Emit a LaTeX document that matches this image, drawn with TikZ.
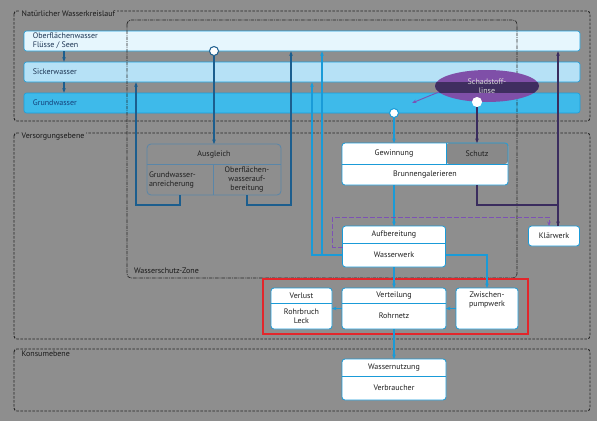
\documentclass[tikz,border=0pt]{standalone}
\usepackage{fontspec}
\setmainfont{PT Sans}
\usetikzlibrary{positioning,arrows.meta,shapes.geometric}

\definecolor{bggray}{HTML}{8E8E8E}
\definecolor{bandline}{HTML}{1B9EDB}
\definecolor{bandone}{HTML}{E6F6FD}
\definecolor{bandtwo}{HTML}{B6E1F6}
\definecolor{bandthree}{HTML}{3EBAEA}
\definecolor{cyanline}{HTML}{1A9BD8}
\definecolor{darkblueline}{HTML}{1C5E8E}
\definecolor{navytext}{HTML}{1D3553}
\definecolor{deepbluetext}{HTML}{15407A}
\definecolor{plumline}{HTML}{3A2C5E}
\definecolor{violetline}{HTML}{7D52B5}
\definecolor{lenslight}{HTML}{7F4FA8}
\definecolor{lensdark}{HTML}{3F2E60}
\definecolor{schutzgray}{HTML}{898989}
\definecolor{framered}{HTML}{E3262B}
\definecolor{ausgleichline}{HTML}{5A86A8}
\definecolor{boxtext}{HTML}{202020}

\begin{document}
\begin{tikzpicture}[x=1pt, y=-1pt,
        font=\fontsize{8}{9}\selectfont,
        >={Stealth[length=4.5pt,width=3.6pt]},
        waterband/.style={draw=bandline, line width=0.6pt, rounded corners=2.5pt, minimum width=556pt, minimum height=20pt, inner sep=0pt},
        bandtext/.style={anchor=west, align=left, inner sep=0pt},
        whitebox/.style={draw=cyanline, fill=white, line width=0.8pt, rounded corners=3pt, inner sep=0pt, outer sep=0pt},
        ausglbox/.style={draw=ausgleichline, line width=0.8pt, rounded corners=4pt, inner sep=0pt, outer sep=0pt},
        rowtext/.style={text=boxtext, inner sep=0pt, outer sep=0pt, align=center},
        divline/.style={draw=cyanline, line width=0.8pt},
        ausgldiv/.style={draw=ausgleichline, line width=0.8pt},
        levelframe/.style={draw=black!85, line width=0.9pt, dash pattern=on 2.5pt off 1.5pt, rounded corners=3pt},
        zoneframe/.style={draw=black!85, line width=0.7pt, dash pattern=on 3.5pt off 1pt on 0.8pt off 1pt, rounded corners=4pt},
        framelabel/.style={anchor=west, text=black!90, fill=bggray, inner sep=1.5pt},
        waterdot/.style={circle, fill=white, minimum size=9pt, inner sep=0pt, line width=1pt},
        cyanarrow/.style={->, draw=cyanline, line width=1.2pt},
        bluearrow/.style={->, draw=darkblueline, line width=1.2pt},
        plumarrow/.style={->, draw=plumline, line width=1.2pt},
        violetarrow/.style={->, draw=violetline, line width=0.9pt},
        violetdash/.style={->, draw=violetline, line width=0.8pt, dash pattern=on 5pt off 2pt},
]
        \fill[bggray] (0,0) rectangle (597,421);
        \useasboundingbox (0,0) rectangle (597,421);

        \draw[levelframe] (14,11) rectangle (590,121);
        \draw[levelframe] (14,133) rectangle (590,339);
        \draw[levelframe] (14,349) rectangle (590,411);
        \node[framelabel] (natlabel) at (20,14) {Natürlicher Wasserkreislauf};
        \node[framelabel] (versorglabel) at (20,137) {Versorgungsebene};
        \node[framelabel] (konsumlabel) at (20,354) {Konsumebene};

        \node[waterband, fill=bandone] (ober) at (302,41) {};
        \node[waterband, fill=bandtwo] (sicker) at (302,72) {};
        \node[waterband, fill=bandthree] (grund) at (302,103) {};
        \node[bandtext, text=navytext, right=9pt of ober.west] (obertext) {Oberflächenwasser\\Flüsse / Seen};
        \node[bandtext, text=navytext, right=9pt of sicker.west] (sickertext) {Sickerwasser};
        \node[bandtext, text=deepbluetext, right=9pt of grund.west] (grundtext) {Grundwasser};

        \draw[zoneframe] (127,20) rectangle (517,278);
        \node[rowtext, anchor=west, text=black!90] (zonelabel) at (134,271) {Wasserschutz-Zone};

        \node[ellipse, fill=lenslight, minimum width=104pt, minimum height=32pt, inner sep=0pt] (linse) at (487,86) {};
        \begin{scope}
            \clip (linse.center) ellipse [x radius=52pt, y radius=16pt];
            \fill[lensdark] (430,82) rectangle (545,93);
        \end{scope}
        \node[rowtext, text=white!85!black] (linsetext) at (487,86) {Schadstoff-\\linse};

        \node[waterdot, draw=darkblueline] (oberdot) at (214,51) {};
        \node[waterdot, draw=cyanline] (grunddot) at (394,113) {};
        \node[waterdot, draw=white] (linsedot) at (477,102) {};

        \node[ausglbox, minimum width=134pt, minimum height=51pt] (ausgl) at (214,169.5) {};
        \node[rowtext, minimum width=134pt, minimum height=20pt, below=0pt of ausgl.north] (ausgleich) {Ausgleich};
        \node[rowtext, minimum width=66pt, minimum height=31pt, text width=62pt, align=left, above right=0pt of ausgl.south west] (anreicherung) {Grundwasser-\\anreicherung};
        \node[rowtext, minimum width=68pt, minimum height=31pt, above left=0pt of ausgl.south east] (owaufbereitung) {Oberflächen-\\wasserauf-\\bereitung};
        \draw[ausgldiv] (ausgleich.south west) -- (ausgleich.south east);
        \draw[ausgldiv] (anreicherung.north east) -- (anreicherung.south east);

        \node[whitebox, minimum width=166pt, minimum height=42pt, path picture={\fill[schutzgray] ([xshift=21pt]path picture bounding box.center) rectangle (path picture bounding box.north east);}] (gew) at (425,164) {};
        \node[rowtext, minimum width=104pt, minimum height=21pt, below right=0pt of gew.north west] (gewinnung) {Gewinnung};
        \node[rowtext, minimum width=62pt, minimum height=21pt, below left=0pt of gew.north east] (schutz) {Schutz};
        \node[rowtext, minimum width=166pt, minimum height=21pt, above=0pt of gew.south] (brunnen) {Brunnengalerieren};
        \draw[divline] (gewinnung.south west) -- (schutz.south east);
        \draw[divline] (gewinnung.north east) -- (gewinnung.south east);

        \node[whitebox, minimum width=103pt, minimum height=41pt] (werk) at (394,246.5) {};
        \node[rowtext, minimum width=103pt, minimum height=17pt, below=0pt of werk.north] (aufbereitung) {Aufbereitung};
        \node[rowtext, minimum width=103pt, minimum height=24pt, above=0pt of werk.south] (wasserwerk) {Wasserwerk};
        \draw[divline] (aufbereitung.south west) -- (aufbereitung.south east);

        \node[whitebox, minimum width=51pt, minimum height=20pt, text=boxtext] (klaerwerk) at (554,236) {Klärwerk};

        \draw[framered, line width=2.6pt] (263,279) rectangle (528,334);

        \node[whitebox, minimum width=61pt, minimum height=41pt] (leck) at (301.5,308.5) {};
        \node[rowtext, minimum width=61pt, minimum height=15pt, below=0pt of leck.north] (verlust) {Verlust};
        \node[rowtext, minimum width=61pt, minimum height=26pt, above=0pt of leck.south] (rohrbruch) {Rohrbruch\\Leck};
        \draw[divline] (verlust.south west) -- (verlust.south east);

        \node[whitebox, minimum width=104pt, minimum height=41pt] (netz) at (394,308.5) {};
        \node[rowtext, minimum width=104pt, minimum height=15pt, below=0pt of netz.north] (verteilung) {Verteilung};
        \node[rowtext, minimum width=104pt, minimum height=26pt, above=0pt of netz.south] (rohrnetz) {Rohrnetz};
        \draw[divline] (verteilung.south west) -- (verteilung.south east);

        \node[whitebox, minimum width=62pt, minimum height=41pt] (pumpwerk) at (487,308.5) {};
        \node[rowtext, anchor=north] (zwischen) at ([yshift=-4pt]pumpwerk.north) {Zwischen-\\pumpwerk};

        \node[whitebox, minimum width=104pt, minimum height=41pt] (nutzung) at (394,379.5) {};
        \node[rowtext, minimum width=104pt, minimum height=17pt, below=0pt of nutzung.north] (wassernutzung) {Wassernutzung};
        \node[rowtext, minimum width=104pt, minimum height=24pt, above=0pt of nutzung.south] (verbraucher) {Verbraucher};
        \draw[divline] (wassernutzung.south west) -- (wassernutzung.south east);

        \coordinate (colband) at (64,0);
        \coordinate (colsicker) at (136,0);
        \coordinate (colober) at (291,0);
        \coordinate (colwwsicker) at (312,0);
        \coordinate (colwwober) at (322,0);
        \coordinate (leak) at (412,103);
        \coordinate (linseedge) at ([xshift=4pt,yshift=-6pt]linse.west);
        \coordinate (klaerleft) at ([xshift=-5pt]klaerwerk.north);
        \coordinate (klaerright) at ([xshift=4pt]klaerwerk.north);

        \draw[bluearrow] (ober.south -| colband) -- (sicker.north -| colband);
        \draw[bluearrow] (sicker.south -| colband) -- (grund.north -| colband);
        \draw[bluearrow] (oberdot) -- (ausgleich.north);
        \draw[bluearrow] (anreicherung.south) -- ++(0,10) -| (sicker.south -| colsicker);
        \draw[bluearrow] (owaufbereitung.south) -- ++(0,10) -| (ober.south -| colober);
        \draw[cyanarrow] (grunddot) -- (gewinnung.north);
        \draw[cyanarrow] (gewinnung |- brunnen.south) -- (aufbereitung.north);
        \draw[cyanarrow] (wasserwerk.west) -| (sicker.south -| colwwsicker);
        \draw[cyanarrow] (wasserwerk.west) -| (ober.south -| colwwober);
        \draw[violetdash] ([yshift=-4pt]wasserwerk.north west) -- ++(-10,0) -- ++(0,-30) -| (klaerleft);
        \draw[plumarrow] (schutz |- brunnen.south) -- ++(0,20) -| (klaerright);
        \draw[plumarrow] (klaerright) -- (ober.south -| klaerright);
        \draw[violetarrow] (linseedge) -- (leak);
        \draw[plumarrow] (linsedot) -- (schutz.north);
        \draw[cyanarrow] (wasserwerk.south) -- (verteilung.north);
        \draw[cyanarrow] (wasserwerk.east) -| (pumpwerk.north);
        \draw[cyanarrow] (pumpwerk.west) -- (netz.east);
        \draw[cyanarrow] (netz.west) -- (leck.east);
        \draw[cyanarrow] (rohrnetz.south) -- (wassernutzung.north);
\end{tikzpicture}
\end{document}
